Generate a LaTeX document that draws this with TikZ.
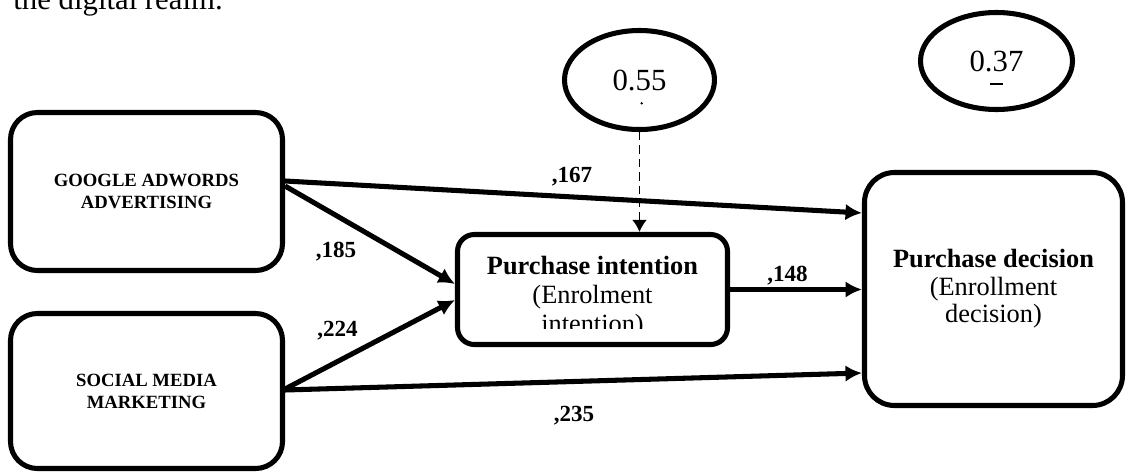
\documentclass[tikz,border=0pt]{standalone}
\usepackage{fontspec}
\setmainfont{Liberation Serif}
\usepackage{tikz}
\usetikzlibrary{shapes, positioning, arrows.meta}

\tikzset{
    varbox/.style={draw, rounded corners=0.43cm, line width=2.3pt, minimum width=4.352cm, align=center, inner sep=2pt, font=\fontsize{8.5}{10}\selectfont\bfseries},
    midbox/.style={draw, line width=2.3pt, align=center, font=\fontsize{12}{12.5}\selectfont},
    errnode/.style={draw, ellipse, line width=2.3pt, inner sep=0pt, font=\fontsize{14}{16}\selectfont},
    coef/.style={inner sep=0pt, font=\fontsize{10.5}{12}\selectfont\bfseries},
    effect/.style={->, line width=2.3pt},
}

\begin{document}
\begin{tikzpicture}[>={Latex[length=7.5pt,width=7.5pt]}]
        \useasboundingbox (0,0) rectangle (18.048,-7.584);
        \node[anchor=base west, inner sep=0pt, font=\fontsize{14}{16}\selectfont] (realm) at (0.208,-0.152) {the digital realm.};

        \node[varbox, minimum height=2.528cm] (gaa) at (2.344,-3.064) {GOOGLE ADWORDS\\ADVERTISING};
        \node[varbox, minimum height=2.48cm] (smm) at (2.344,-6.256) {SOCIAL MEDIA\\MARKETING};
        \node[midbox, rounded corners=0.27cm, minimum width=4.32cm, minimum height=1.76cm] (pi) at (9.48,-4.632) {};
        \node[midbox, rounded corners=0.48cm, minimum width=4.128cm, minimum height=3.728cm] (pd) at (15.896,-4.624) {\textbf{Purchase decision}\\(Enrollment\\decision)};
        \node[errnode, minimum width=2.4cm, minimum height=1.584cm] (e1) at (10.232,-1.28) {0.55};
        \node[errnode, minimum width=2.432cm, minimum height=1.552cm] (e2) at (15.944,-0.976) {0.37};

        \begin{scope}
            \clip (pi.north west) rectangle ([yshift=-0.616cm]pi.east);
            \node[anchor=north, inner sep=0pt, align=center, font=\fontsize{12}{13.2}\selectfont] (pitext) at ([yshift=-0.376cm]pi.north) {\textbf{Purchase intention}\\(Enrolment\\intention)};
        \end{scope}
        \fill (10.267,-1.653) circle (0.6pt);
        \draw[line width=0.6pt] (15.84,-1.344) -- (16.048,-1.344);

        \draw[effect] ([yshift=0.168cm]gaa.east) -- ([yshift=1.216cm]pd.west);
        \draw[effect] ([yshift=0.088cm]gaa.east) -- ([yshift=0.088cm]pi.west);
        \draw[effect] ([yshift=0.032cm]smm.east) -- ([yshift=-0.168cm]pi.west);
        \draw[effect] ([yshift=0.016cm]smm.east) -- ([yshift=-1.344cm]pd.west);
        \draw[effect] (pi.east) -- (pi.east -| pd.west);
        \draw[->, >={Latex[length=5.5pt,width=6.8pt]}, line width=0.9pt, dash pattern=on 3.8pt off 2.3pt] (e1.south) -- (e1.south |- pi.north);

        \node[coef] (c167) at (9.152,-2.824) {,167};
        \node[coef] (c185) at (5.376,-4.032) {,185};
        \node[coef] (c224) at (5.4,-5.288) {,224};
        \node[coef] (c235) at (9.184,-6.648) {,235};
        \node[coef] (c148) at (12.6,-4.408) {,148};
    \end{tikzpicture}
\end{document}
